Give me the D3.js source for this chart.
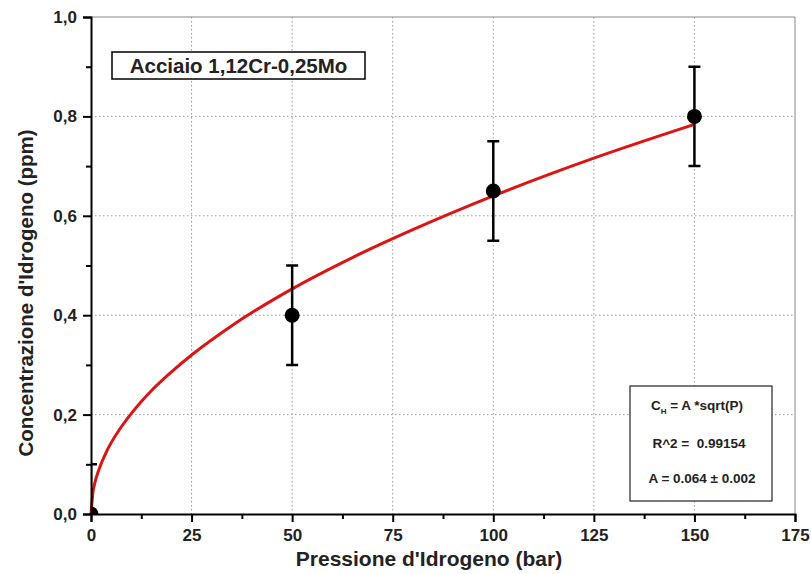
<!DOCTYPE html>
<html>
<head>
<meta charset="utf-8">
<script src="https://cdn.jsdelivr.net/npm/d3@7/dist/d3.min.js"></script>
<style>
    body { margin: 0; background: #fff; }
    svg { font-family: 'Liberation Sans', Arial, sans-serif; }
</style>
</head>
<body>
<div id="chart-container"></div>
<script>
// Measured points (pressure in bar, concentration in ppm) with error
var pressures = [0, 50, 100, 150];
var concentrations = [0, 0.4, 0.65, 0.8];
var errors = [0.1, 0.1, 0.1, 0.1];

var fitPressures = [0, 0.5, 1, 2, 4, 7, 10, 15, 20, 25, 35, 50, 65, 80, 100, 125, 150];
var fitValues = [0, 0.045, 0.064, 0.09, 0.128, 0.169, 0.202, 0.248, 0.286, 0.32, 0.379, 0.453, 0.516, 0.572, 0.64, 0.716, 0.784];

var xTicks = [0, 25, 50, 75, 100, 125, 150, 175];
var xMinorTicks = [12.5, 37.5, 62.5, 87.5, 112.5, 137.5, 162.5];
var yTicks = [0, 0.2, 0.4, 0.6, 0.8, 1.0];
var yMinorTicks = [0.1, 0.3, 0.5, 0.7, 0.9];

var sampleLabel = 'Acciaio 1,12Cr-0,25Mo';
var fitLines = ['R^2 =  0.99154', 'A = 0.064 \u00b1 0.002'];

var totalW = 811, totalH = 574;
var margin = { top: 17, right: 16, bottom: 60, left: 91 };
var width = totalW - margin.left - margin.right;
var height = totalH - margin.top - margin.bottom;

var root = d3.select('#chart-container')
    .append('svg')
    .attr('width', totalW)
    .attr('height', totalH);

var svg = root.append('g')
    .attr('transform', 'translate(' + margin.left + ',' + margin.top + ')');

var x = d3.scaleLinear().domain([0, 175]).range([0, width]);
var y = d3.scaleLinear().domain([0, 1.0]).range([height, 0]);

var fmt = function(d) { return d3.format('.1f')(d).replace('.', ','); };

// Clip for data
svg.append('defs').append('clipPath')
    .attr('id', 'plot-clip')
    .append('rect')
    .attr('width', width)
    .attr('height', height);

// Grid lines
svg.append('g')
    .attr('class', 'grid')
    .selectAll('line')
    .data(xTicks.filter(function(d) { return d > 0 && d < 175; }))
    .enter().append('line')
    .attr('x1', function(d) { return x(d); })
    .attr('x2', function(d) { return x(d); })
    .attr('y1', 0).attr('y2', height);

svg.append('g')
    .attr('class', 'grid')
    .selectAll('line')
    .data(yTicks.filter(function(d) { return d > 0 && d < 1; }))
    .enter().append('line')
    .attr('y1', function(d) { return y(d); })
    .attr('y2', function(d) { return y(d); })
    .attr('x1', 0).attr('x2', width);

svg.selectAll('.grid line')
    .attr('stroke', '#999')
    .attr('stroke-width', 1)
    .attr('stroke-dasharray', '1.5,2.5');

// Frame top/right
svg.append('path')
    .attr('d', 'M0,0H' + width + 'V' + height)
    .attr('fill', 'none')
    .attr('stroke', '#888')
    .attr('stroke-width', 1);

// Fit curve
var line = d3.line()
    .x(function(d, i) { return x(fitPressures[i]); })
    .y(function(d) { return y(d); })
    .curve(d3.curveMonotoneX);

svg.append('path')
    .datum(fitValues)
    .attr('fill', 'none')
    .attr('stroke', '#dd1414')
    .attr('stroke-width', 3)
    .attr('d', line);

// Error bars and points
var pts = pressures.map(function(p, i) {
    return { p: p, c: concentrations[i], e: errors[i] };
});

var dataG = svg.append('g').attr('clip-path', 'url(#plot-clip)');

dataG.selectAll('.err')
    .data(pts)
    .enter().append('path')
    .attr('class', 'err')
    .attr('fill', 'none')
    .attr('stroke', '#000')
    .attr('stroke-width', 2.5)
    .attr('d', function(d) {
        var cx = x(d.p), y0 = y(d.c - d.e), y1 = y(d.c + d.e), w = 6;
        return 'M' + cx + ',' + y0 + 'V' + y1 +
            'M' + (cx - w) + ',' + y1 + 'H' + (cx + w) +
            'M' + (cx - w) + ',' + y0 + 'H' + (cx + w);
    });

dataG.selectAll('.dot')
    .data(pts)
    .enter().append('circle')
    .attr('class', 'dot')
    .attr('cx', function(d) { return x(d.p); })
    .attr('cy', function(d) { return y(d.c); })
    .attr('r', 7.5)
    .attr('fill', '#000');

// Axes
svg.append('g')
    .attr('class', 'axis')
    .attr('transform', 'translate(0,' + height + ')')
    .call(d3.axisBottom(x).tickValues(xTicks).tickSize(8).tickPadding(7).tickFormat(d3.format('d')));

svg.append('g')
    .attr('transform', 'translate(0,' + height + ')')
    .call(d3.axisBottom(x).tickValues(xMinorTicks).tickSize(5).tickFormat(''))
    .call(function(g) { g.select('.domain').remove(); });

svg.append('g')
    .attr('class', 'axis')
    .call(d3.axisLeft(y).tickValues(yTicks).tickSize(8).tickPadding(6).tickFormat(fmt));

svg.append('g')
    .call(d3.axisLeft(y).tickValues(yMinorTicks).tickSize(5).tickFormat(''))
    .call(function(g) { g.select('.domain').remove(); });

svg.selectAll('.tick line').attr('stroke', '#000').attr('stroke-width', 2);
svg.selectAll('.axis .domain').attr('stroke', '#000').attr('stroke-width', 2);
svg.selectAll('.axis .tick text')
    .attr('font-size', 17)
    .attr('font-weight', 'bold')
    .attr('fill', '#222');

// Axis titles
svg.append('text')
    .attr('x', 338)
    .attr('y', height + 52)
    .attr('text-anchor', 'middle')
    .attr('font-size', 21)
    .attr('font-weight', 'bold')
    .attr('fill', '#222')
    .text("Pressione d'Idrogeno (bar)");

svg.append('text')
    .attr('transform', 'translate(' + (-58) + ',' + 276 + ') rotate(-90)')
    .attr('text-anchor', 'middle')
    .attr('font-size', 20.5)
    .attr('font-weight', 'bold')
    .attr('fill', '#222')
    .text("Concentrazione d'Idrogeno (ppm)");

// Sample label box
var lab = svg.append('g').attr('transform', 'translate(21,35)');
lab.append('rect')
    .attr('width', 253).attr('height', 27)
    .attr('fill', '#fff')
    .attr('stroke', '#000')
    .attr('stroke-width', 1.5);
lab.append('text')
    .attr('x', 126.5).attr('y', 21)
    .attr('text-anchor', 'middle')
    .attr('font-size', 20.5)
    .attr('font-weight', 'bold')
    .attr('fill', '#222')
    .text(sampleLabel);

// Fit results box
var fb = svg.append('g').attr('transform', 'translate(539,369)');
fb.append('rect')
    .attr('width', 142).attr('height', 115)
    .attr('fill', '#fff')
    .attr('stroke', '#222')
    .attr('stroke-width', 1.2);

var eq = fb.append('text')
    .attr('x', 67).attr('y', 24)
    .attr('text-anchor', 'middle')
    .attr('font-size', 13.5)
    .attr('font-weight', 'bold')
    .attr('fill', '#222');
eq.append('tspan').text('C');
eq.append('tspan').attr('font-size', 8).attr('dy', 4).text('H');
eq.append('tspan').attr('dy', -4).text(' = A *sqrt(P)');

fb.selectAll('.fitline')
    .data(fitLines)
    .enter().append('text')
    .attr('class', 'fitline')
    .attr('x', function(d, i) { return i === 0 ? 69 : 72; })
    .attr('y', function(d, i) { return 62 + i * 35; })
    .attr('text-anchor', 'middle')
    .attr('font-size', 13.5)
    .attr('font-weight', 'bold')
    .attr('fill', '#222')
    .style('white-space', 'pre')
    .text(function(d) { return d; });
</script>
</body>
</html>
